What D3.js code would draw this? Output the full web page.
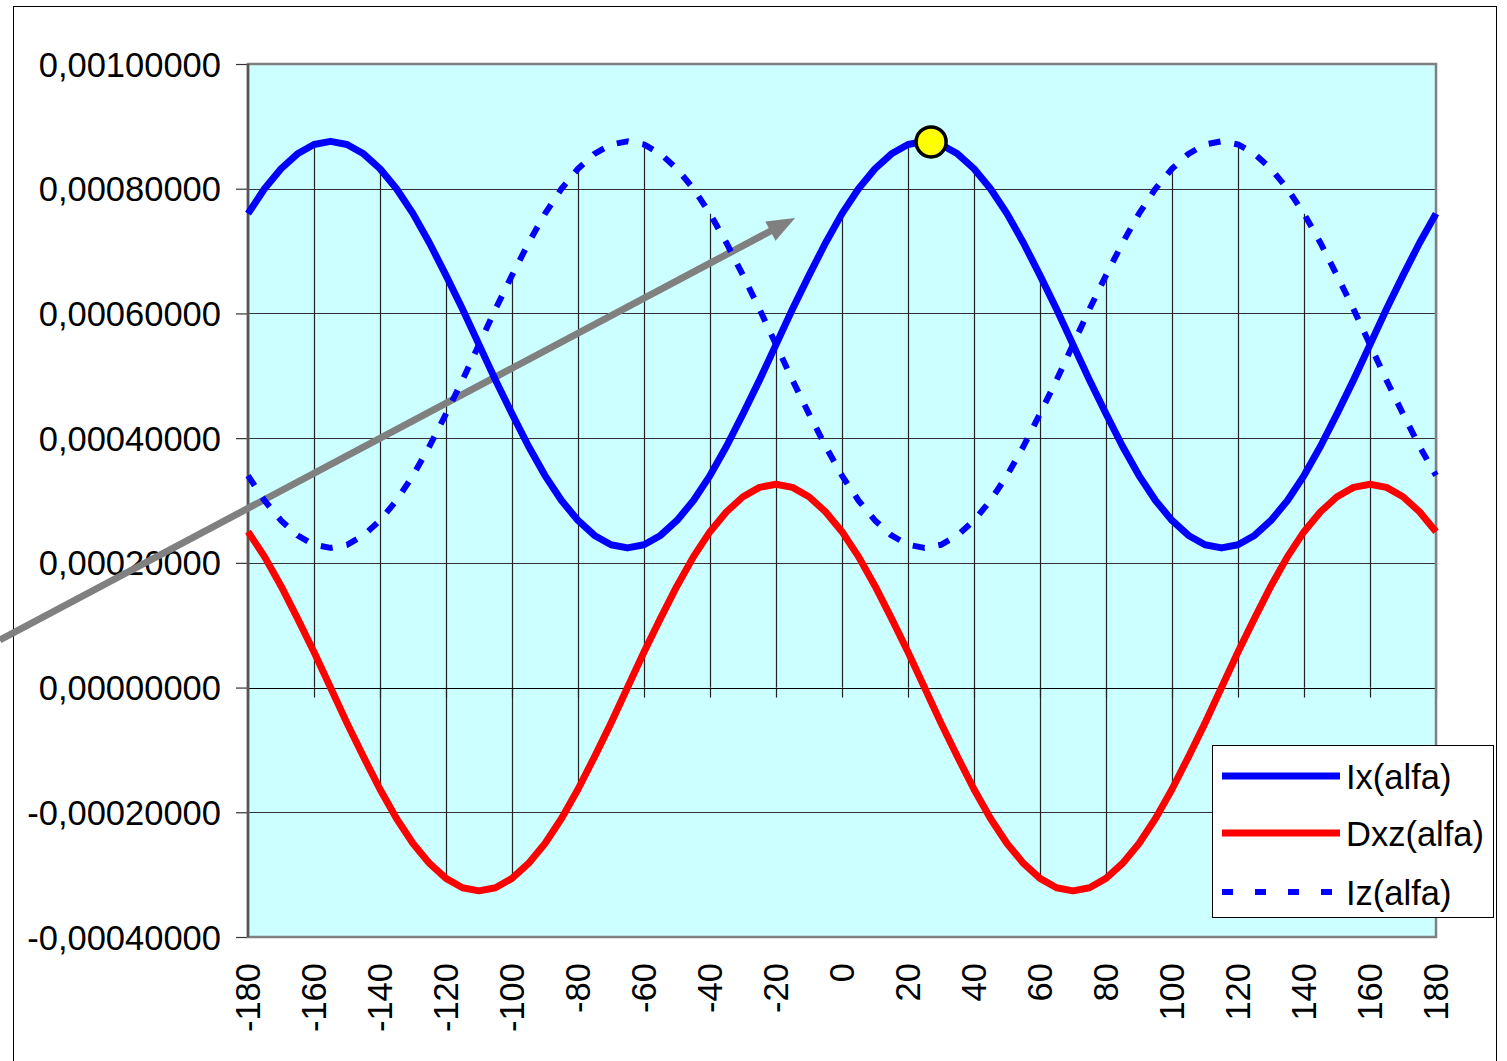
<!DOCTYPE html>
<html>
<head>
<meta charset="utf-8">
<script src="https://cdn.jsdelivr.net/npm/d3@7"></script>
<style>
  html, body { margin: 0; padding: 0; background: #ffffff; }
  svg { display: block; font-family: "Liberation Sans", Arial, sans-serif; }
</style>
</head>
<body>
<svg id="chart" width="1507" height="1061"></svg>
<script>
// Rotation angle alfa (degrees), one sample every 5 degrees
const angles = [
  -180, -175, -170, -165, -160, -155, -150, -145, -140, -135, -130, -125,
  -120, -115, -110, -105, -100, -95, -90, -85, -80, -75, -70, -65,
  -60, -55, -50, -45, -40, -35, -30, -25, -20, -15, -10, -5,
  0, 5, 10, 15, 20, 25, 30, 35, 40, 45, 50, 55,
  60, 65, 70, 75, 80, 85, 90, 95, 100, 105, 110, 115,
  120, 125, 130, 135, 140, 145, 150, 155, 160, 165, 170, 175, 180
];

// Moment of inertia about the rotated x axis
const ix = [
  0.000760, 0.000800, 0.000832, 0.000856, 0.000871, 0.000876, 0.000871, 0.000856, 0.000832, 0.000800,
  0.000760, 0.000713, 0.000661, 0.000607, 0.000550, 0.000493, 0.000439, 0.000387, 0.000340, 0.000300,
  0.000268, 0.000244, 0.000229, 0.000224, 0.000229, 0.000244, 0.000268, 0.000300, 0.000340, 0.000387,
  0.000439, 0.000493, 0.000550, 0.000607, 0.000661, 0.000713,
  0.000760, 0.000800, 0.000832, 0.000856, 0.000871, 0.000876, 0.000871, 0.000856, 0.000832, 0.000800,
  0.000760, 0.000713, 0.000661, 0.000607, 0.000550, 0.000493, 0.000439, 0.000387, 0.000340, 0.000300,
  0.000268, 0.000244, 0.000229, 0.000224, 0.000229, 0.000244, 0.000268, 0.000300, 0.000340, 0.000387,
  0.000439, 0.000493, 0.000550, 0.000607, 0.000661, 0.000713,
  0.000760
];

// Product of inertia
const dxz = [
  0.000250, 0.000210, 0.000163, 0.000111, 0.000057, 0.000000, -0.000057, -0.000111, -0.000163, -0.000210,
  -0.000250, -0.000282, -0.000306, -0.000321, -0.000326, -0.000321, -0.000306, -0.000282, -0.000250, -0.000210,
  -0.000163, -0.000111, -0.000057, 0.000000, 0.000057, 0.000111, 0.000163, 0.000210, 0.000250, 0.000282,
  0.000306, 0.000321, 0.000326, 0.000321, 0.000306, 0.000282,
  0.000250, 0.000210, 0.000163, 0.000111, 0.000057, 0.000000, -0.000057, -0.000111, -0.000163, -0.000210,
  -0.000250, -0.000282, -0.000306, -0.000321, -0.000326, -0.000321, -0.000306, -0.000282, -0.000250, -0.000210,
  -0.000163, -0.000111, -0.000057, 0.000000, 0.000057, 0.000111, 0.000163, 0.000210, 0.000250, 0.000282,
  0.000306, 0.000321, 0.000326, 0.000321, 0.000306, 0.000282,
  0.000250
];

// Moment of inertia about the rotated z axis
const iz = [
  0.000340, 0.000300, 0.000268, 0.000244, 0.000229, 0.000224, 0.000229, 0.000244, 0.000268, 0.000300,
  0.000340, 0.000387, 0.000439, 0.000493, 0.000550, 0.000607, 0.000661, 0.000713, 0.000760, 0.000800,
  0.000832, 0.000856, 0.000871, 0.000876, 0.000871, 0.000856, 0.000832, 0.000800, 0.000760, 0.000713,
  0.000661, 0.000607, 0.000550, 0.000493, 0.000439, 0.000387,
  0.000340, 0.000300, 0.000268, 0.000244, 0.000229, 0.000224, 0.000229, 0.000244, 0.000268, 0.000300,
  0.000340, 0.000387, 0.000439, 0.000493, 0.000550, 0.000607, 0.000661, 0.000713, 0.000760, 0.000800,
  0.000832, 0.000856, 0.000871, 0.000876, 0.000871, 0.000856, 0.000832, 0.000800, 0.000760, 0.000713,
  0.000661, 0.000607, 0.000550, 0.000493, 0.000439, 0.000387,
  0.000340
];

const xTickLabels = [-180, -160, -140, -120, -100, -80, -60, -40, -20, 0, 20, 40, 60, 80, 100, 120, 140, 160, 180];
const yTickValues = [0.0010, 0.0008, 0.0006, 0.0004, 0.0002, 0.0, -0.0002, -0.0004];
const seriesNames = ["Ix(alfa)", "Dxz(alfa)", "Iz(alfa)"];

// Principal axis marker (angle, Ix max) and the pointer arrow (angle, value pairs)
const principalPoint = [27, 0.000875];
const arrowFrom = [-255.2, 0.0000763];
const arrowTo = [-14.2, 0.000753];

const svg = d3.select("#chart");
const plot = { left: 248, right: 1436, top: 64, bottom: 937 };

const x = d3.scalePoint().domain(angles).range([plot.left, plot.right]);
const xLin = d3.scaleLinear().domain([-180, 180]).range([plot.left, plot.right]);
const y = d3.scaleLinear().domain([-0.0004, 0.0010]).range([plot.bottom, plot.top]);

const locale = d3.formatLocale({ decimal: ",", thousands: ".", grouping: [3], currency: ["", ""], minus: "-" });
const fmt = locale.format(".8f");

// Outer chart frame
svg.append("rect")
  .attr("x", 13.5).attr("y", 6.5)
  .attr("width", 1483).attr("height", 1070)
  .attr("fill", "#ffffff").attr("stroke", "#000000").attr("stroke-width", 1);

// Plot area background
svg.append("rect")
  .attr("x", plot.left).attr("y", plot.top)
  .attr("width", plot.right - plot.left).attr("height", plot.bottom - plot.top)
  .attr("fill", "#ccffff");

// Horizontal gridlines
svg.append("g")
  .selectAll("line")
  .data(yTickValues)
  .join("line")
  .attr("x1", plot.left).attr("x2", plot.right)
  .attr("y1", d => Math.round(y(d)) + 0.5).attr("y2", d => Math.round(y(d)) + 0.5)
  .attr("stroke", "#333333").attr("stroke-width", 1.2);

// Value axis with outside ticks
const yAxis = svg.append("g")
  .attr("transform", `translate(${plot.left},0)`)
  .call(d3.axisLeft(y).tickValues(yTickValues).tickSize(12).tickPadding(15).tickFormat(fmt));
yAxis.select(".domain").remove();
yAxis.selectAll(".tick line").attr("stroke", "#333333").attr("stroke-width", 1.2);
yAxis.selectAll(".tick text")
  .attr("font-size", 34.5).attr("fill", "#000000")
  .attr("font-family", "'Liberation Sans', Arial, sans-serif")
  .attr("dy", null).attr("dominant-baseline", "central");

// High-low and drop lines at every labelled angle, ending with a tick below the zero line
const idx = d3.index(angles.map((a, i) => ({ a, i })), d => d.a);
const dropData = xTickLabels.map(a => {
  const i = idx.get(a).i;
  const vals = [ix[i], dxz[i], iz[i]];
  return { a, hi: d3.max(vals), lo: Math.min(d3.min(vals), 0) };
});
const drops = svg.append("g");
drops.selectAll("line.hl")
  .data(dropData)
  .join("line")
  .attr("class", "hl")
  .attr("x1", d => Math.round(x(d.a)) + 0.5).attr("x2", d => Math.round(x(d.a)) + 0.5)
  .attr("y1", d => y(d.hi)).attr("y2", d => y(d.lo))
  .attr("stroke", "#222222").attr("stroke-width", 1.2);
drops.selectAll("line.tk")
  .data(dropData)
  .join("line")
  .attr("class", "tk")
  .attr("x1", d => Math.round(x(d.a)) + 0.5).attr("x2", d => Math.round(x(d.a)) + 0.5)
  .attr("y1", y(0)).attr("y2", y(0) + 10)
  .attr("stroke", "#222222").attr("stroke-width", 1.2);

// Zero line (category axis)
svg.append("line")
  .attr("x1", plot.left).attr("x2", plot.right)
  .attr("y1", Math.round(y(0)) + 0.5).attr("y2", Math.round(y(0)) + 0.5)
  .attr("stroke", "#000000").attr("stroke-width", 1.2);

// Plot area border
svg.append("rect")
  .attr("x", plot.left).attr("y", plot.top)
  .attr("width", plot.right - plot.left).attr("height", plot.bottom - plot.top)
  .attr("fill", "none").attr("stroke", "#808080").attr("stroke-width", 2.5);
svg.append("line")
  .attr("x1", plot.left).attr("x2", plot.left)
  .attr("y1", plot.top).attr("y2", plot.bottom)
  .attr("stroke", "#555555").attr("stroke-width", 2.5);

// Category labels, rotated
svg.append("g")
  .selectAll("text")
  .data(xTickLabels)
  .join("text")
  .attr("transform", d => `translate(${x(d)},963) rotate(-90)`)
  .attr("text-anchor", "end")
  .attr("dominant-baseline", "central")
  .attr("font-size", 34.5)
  .attr("fill", "#000000")
  .text(d => String(d));

// Pointer arrow
const ax0 = xLin(arrowFrom[0]), ay0 = y(arrowFrom[1]);
const ax1 = xLin(arrowTo[0]), ay1 = y(arrowTo[1]);
const ang = Math.atan2(ay1 - ay0, ax1 - ax0);
const headLen = 28, headHalf = 11;
const bx = ax1 - headLen * Math.cos(ang), by = ay1 - headLen * Math.sin(ang);
svg.append("line")
  .attr("x1", ax0).attr("y1", ay0)
  .attr("x2", bx + 2 * Math.cos(ang)).attr("y2", by + 2 * Math.sin(ang))
  .attr("stroke", "#808080").attr("stroke-width", 7);
svg.append("path")
  .attr("d", `M${ax1},${ay1} L${bx + headHalf * Math.sin(ang)},${by - headHalf * Math.cos(ang)} L${bx - headHalf * Math.sin(ang)},${by + headHalf * Math.cos(ang)} Z`)
  .attr("fill", "#808080");

// Series lines
const seriesData = [
  { name: seriesNames[2], values: iz, color: "#0000ff", width: 6, dash: "12,14" },
  { name: seriesNames[1], values: dxz, color: "#ff0000", width: 7, dash: null },
  { name: seriesNames[0], values: ix, color: "#0000ff", width: 7, dash: null }
];
const line = d3.line().x((d, i) => x(angles[i])).y(d => y(d));
svg.append("g")
  .selectAll("path")
  .data(seriesData)
  .join("path")
  .attr("d", d => line(d.values))
  .attr("fill", "none")
  .attr("stroke", d => d.color)
  .attr("stroke-width", d => d.width)
  .attr("stroke-dasharray", d => d.dash)
  .attr("stroke-linejoin", "round");

// Principal axis marker
svg.append("circle")
  .attr("cx", xLin(principalPoint[0])).attr("cy", y(principalPoint[1]))
  .attr("r", 15)
  .attr("fill", "#ffff00").attr("stroke", "#000000").attr("stroke-width", 3.5);

// Legend
const legend = svg.append("g");
legend.append("rect")
  .attr("x", 1212.5).attr("y", 745.5).attr("width", 281).attr("height", 172)
  .attr("fill", "#ffffff").attr("stroke", "#000000").attr("stroke-width", 1);
const legendItems = [
  { name: seriesNames[0], color: "#0000ff", width: 7, dash: null, y: 776 },
  { name: seriesNames[1], color: "#ff0000", width: 7, dash: null, y: 833 },
  { name: seriesNames[2], color: "#0000ff", width: 6, dash: "11,22", y: 892 }
];
const li = legend.selectAll("g.item").data(legendItems).join("g").attr("class", "item");
li.append("line")
  .attr("x1", 1222).attr("x2", 1340)
  .attr("y1", d => d.y).attr("y2", d => d.y)
  .attr("stroke", d => d.color).attr("stroke-width", d => d.width)
  .attr("stroke-dasharray", d => d.dash);
li.append("text")
  .attr("x", 1346).attr("y", d => d.y + 1)
  .attr("dominant-baseline", "central")
  .attr("font-size", 34.5)
  .attr("fill", "#000000")
  .text(d => d.name);
</script>
</body>
</html>
